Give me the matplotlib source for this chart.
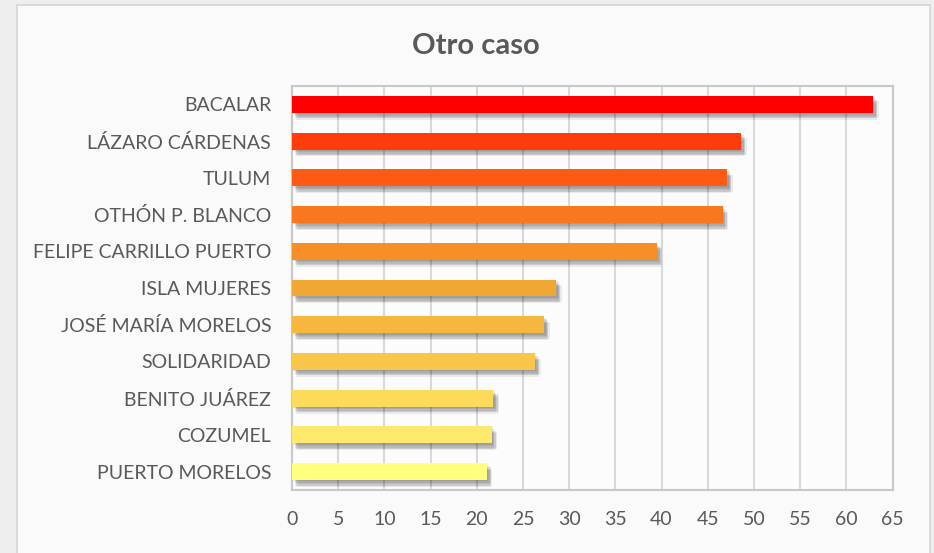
import matplotlib.pyplot as plt
import matplotlib.patheffects as pe
from matplotlib.patches import Rectangle

# municipios, de arriba hacia abajo
municipios = ["BACALAR", "LÁZARO CÁRDENAS", "TULUM", "OTHÓN P. BLANCO",
              "FELIPE CARRILLO PUERTO", "ISLA MUJERES", "JOSÉ MARÍA MORELOS",
              "SOLIDARIDAD", "BENITO JUÁREZ", "COZUMEL", "PUERTO MORELOS"]
valores = [62.9, 48.6, 47.1, 46.6, 39.5, 28.6, 27.3, 26.3, 21.8, 21.6, 21.1]
colores = ["#FF0000", "#FF3C0A", "#FD5A14", "#F9771E", "#F58F26", "#F0A832",
           "#F5B73E", "#F9C64A", "#FCDA5A", "#FEE96C", "#FFFF80"]
ticks_x = list(range(0, 70, 5))

plt.rcParams['font.family'] = ['Lato', 'DejaVu Sans']
gris = "#595959"

fig = plt.figure(figsize=(9.34, 5.53), dpi=100)
fig.patch.set_facecolor("#EEEEEE")

# recuadro del grafico (detras de los ejes)
fig.patches.append(Rectangle((17 / 934, -0.02), (930 - 17) / 934, 1 - 5 / 553 + 0.02,
                             transform=fig.transFigure, facecolor="#FAFAFA",
                             edgecolor="#D4D4D4", linewidth=1.2, zorder=-10))

ax = fig.add_axes([292 / 934, 1 - 490 / 553, (892.5 - 292) / 934, (490 - 86) / 553])
ax.set_facecolor("#FCFCFC")

y = list(range(len(municipios)))
barras = ax.barh(y, valores, height=0.46, color=colores, zorder=3)

# sombra difusa: varias capas desplazadas con poca opacidad
sombra = [pe.SimplePatchShadow(offset=o, shadow_rgbFace="k", alpha=0.07)
          for o in [(1, -1), (2, -2), (3, -3), (2, -4), (4, -4), (3, -5)]]
for b in barras:
    b.set_path_effects(sombra + [pe.Normal()])

ax.set_xlim(0, 65)
ax.set_ylim(len(municipios) - 0.5, -0.5)
ax.set_xticks(ticks_x)
ax.set_yticks(y)
ax.set_yticklabels(municipios)
ax.tick_params(axis='both', length=0, labelsize=14, labelcolor=gris)
ax.tick_params(axis='x', pad=15)
ax.tick_params(axis='y', pad=15)

ax.grid(axis='x', color="#D9D9D9", linewidth=1.5, zorder=0)
ax.set_axisbelow(True)
for s in ax.spines.values():
    s.set_color("#C8C8C8")
    s.set_linewidth(1.5)

fig.text(476 / 934, 1 - 46 / 553, "Otro caso", ha='center', va='center',
         fontsize=21, fontweight='bold', color=gris)

fig.savefig("out.png", dpi=100, facecolor=fig.get_facecolor())
